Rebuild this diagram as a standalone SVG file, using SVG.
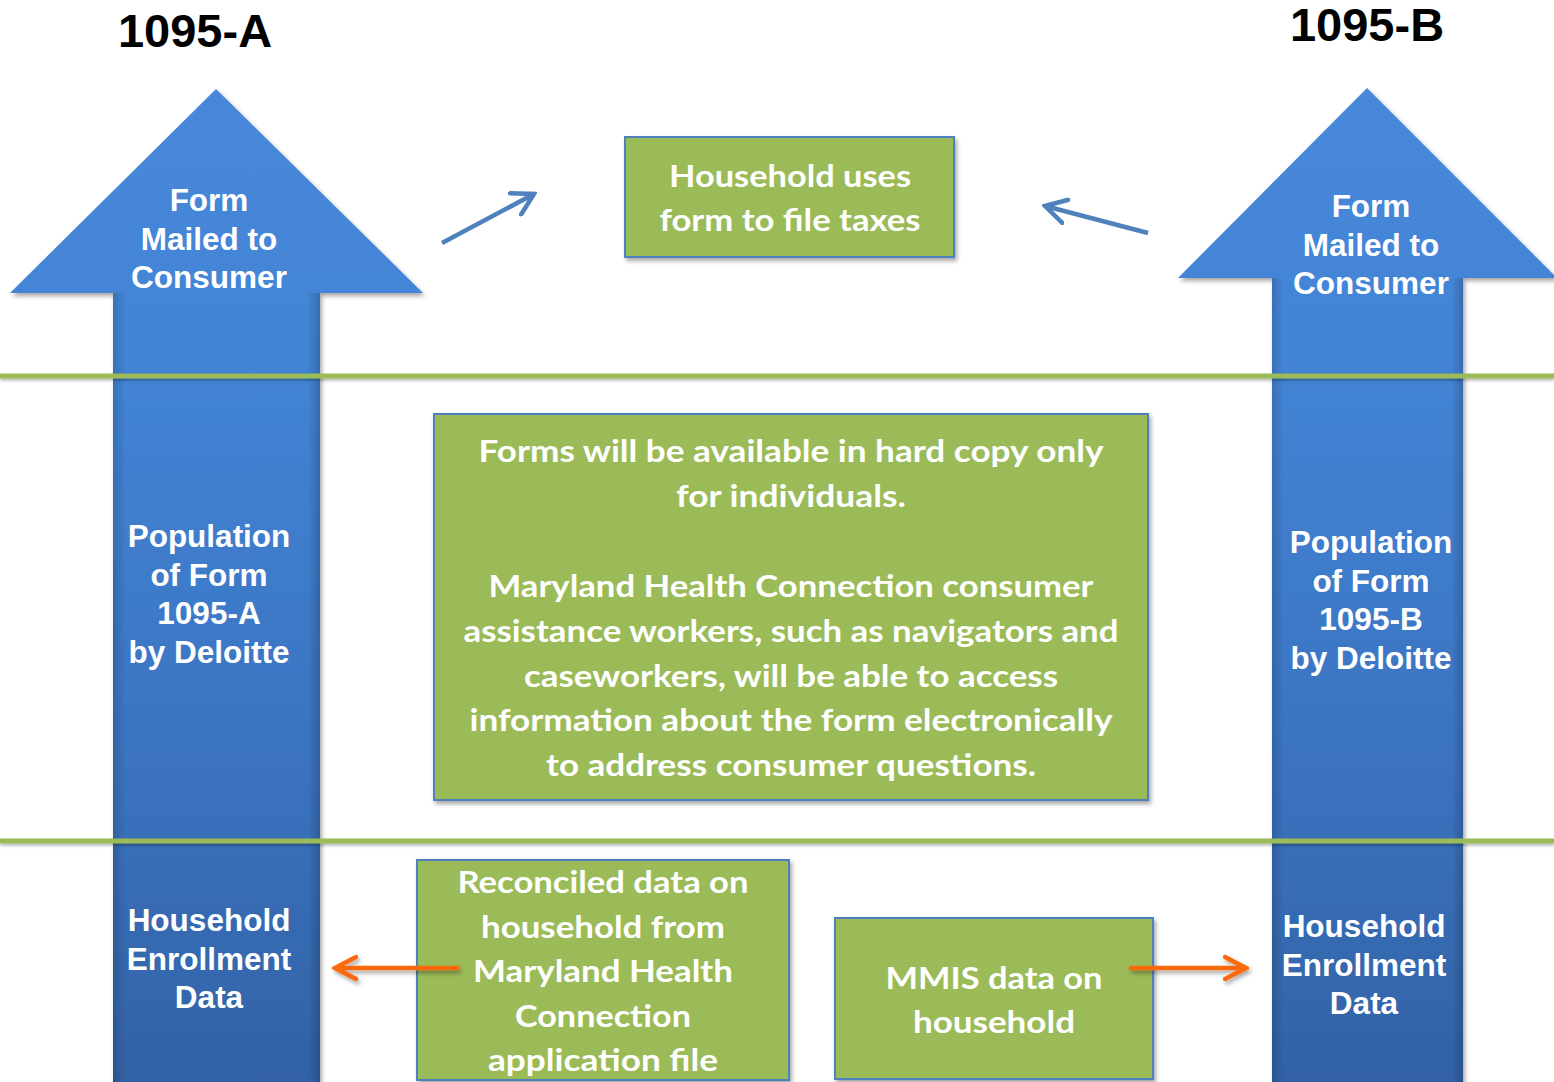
<svg xmlns="http://www.w3.org/2000/svg" width="1554" height="1082" viewBox="0 0 1554 1082">
<style>
  .title{font-family:"Liberation Sans",Arial,sans-serif;font-weight:bold;font-size:47px;fill:#000;text-anchor:middle}
  .alab{font-family:"Liberation Sans",Arial,sans-serif;font-weight:bold;font-size:31.5px;fill:#fff;text-anchor:middle}
  .box{fill:#9BBB59;stroke:#4F81BD;stroke-width:2}
  .btxt{font-family:Lato,"Open Sans",sans-serif;font-weight:bold;font-size:31px;fill:#fff;text-anchor:middle}
  .gline{stroke:#9BBB59;stroke-width:5}
  .blue{stroke:#4F81BD;stroke-width:4.5;fill:none}
  .orange{stroke:#FA6A0A;stroke-width:4.5;fill:none}
</style>
<defs>
  <linearGradient id="arrowGrad" gradientUnits="userSpaceOnUse" x1="0" y1="89" x2="0" y2="1082">
    <stop offset="0" stop-color="#4788DA"/>
    <stop offset="0.3" stop-color="#4283D4"/>
    <stop offset="0.7" stop-color="#3A72BE"/>
    <stop offset="1" stop-color="#3262A5"/>
  </linearGradient>
  <linearGradient id="edgeGrad" x1="0" y1="0" x2="1" y2="0">
    <stop offset="0" stop-color="#000" stop-opacity="0.15"/>
    <stop offset="0.06" stop-color="#000" stop-opacity="0"/>
    <stop offset="0.94" stop-color="#000" stop-opacity="0"/>
    <stop offset="1" stop-color="#000" stop-opacity="0.18"/>
  </linearGradient>
  <filter id="shadow" x="-10%" y="-10%" width="130%" height="130%">
    <feDropShadow dx="2" dy="3" stdDeviation="2" flood-color="#000" flood-opacity="0.35"/>
  </filter>
  <filter id="ushadow" filterUnits="userSpaceOnUse" x="0" y="0" width="1554" height="1082">
    <feDropShadow dx="2" dy="3" stdDeviation="2" flood-color="#000" flood-opacity="0.35"/>
  </filter>
  <filter id="lshadow" filterUnits="userSpaceOnUse" x="0" y="0" width="1554" height="1082">
    <feDropShadow dx="0" dy="2" stdDeviation="1.5" flood-color="#000" flood-opacity="0.3"/>
  </filter>
  <marker id="headBlue" viewBox="0 0 26 28" refX="23" refY="14" markerWidth="26" markerHeight="28" markerUnits="userSpaceOnUse" orient="auto">
    <path d="M2,2 L23,14 L2,26" fill="none" stroke="#4F81BD" stroke-width="4.5" stroke-linecap="round" stroke-linejoin="miter"/>
  </marker>
  <marker id="headOrange" viewBox="0 0 26 28" refX="23" refY="14" markerWidth="26" markerHeight="28" markerUnits="userSpaceOnUse" orient="auto">
    <path d="M2,3 L23,14 L2,25" fill="none" stroke="#FA6A0A" stroke-width="4.5" stroke-linecap="round" stroke-linejoin="miter"/>
  </marker>
</defs>

<rect x="0" y="0" width="1554" height="1082" fill="#fff"/>

<g id="title-a"><text class="title" x="195" y="47">1095-A</text></g>
<g id="title-b"><text class="title" x="1367" y="41">1095-B</text></g>

<g id="arrow-a">
  <path d="M216,89 L423,293 L320,293 L320,1082 L113,1082 L113,293 L10,293 Z" fill="url(#arrowGrad)" filter="url(#shadow)"/>
  <rect x="113" y="293" width="207" height="789" fill="url(#edgeGrad)"/>
  <text class="alab"><tspan x="209" y="211">Form</tspan><tspan x="209" y="249.5">Mailed to</tspan><tspan x="209" y="288">Consumer</tspan></text>
  <text class="alab"><tspan x="209" y="547">Population</tspan><tspan x="209" y="585.5">of Form</tspan><tspan x="209" y="624">1095-A</tspan><tspan x="209" y="662.5">by Deloitte</tspan></text>
  <text class="alab"><tspan x="209" y="931">Household</tspan><tspan x="209" y="969.5">Enrollment</tspan><tspan x="209" y="1008">Data</tspan></text>
</g>

<g id="arrow-b">
  <path d="M1367,88 L1557,278 L1463,278 L1463,1082 L1272,1082 L1272,278 L1178,278 Z" fill="url(#arrowGrad)" filter="url(#shadow)"/>
  <rect x="1272" y="278" width="191" height="804" fill="url(#edgeGrad)"/>
  <text class="alab"><tspan x="1371" y="217">Form</tspan><tspan x="1371" y="255.5">Mailed to</tspan><tspan x="1371" y="294">Consumer</tspan></text>
  <text class="alab"><tspan x="1371" y="553">Population</tspan><tspan x="1371" y="591.5">of Form</tspan><tspan x="1371" y="630">1095-B</tspan><tspan x="1371" y="668.5">by Deloitte</tspan></text>
  <text class="alab"><tspan x="1364" y="937">Household</tspan><tspan x="1364" y="975.5">Enrollment</tspan><tspan x="1364" y="1014">Data</tspan></text>
</g>

<g id="dividers" filter="url(#lshadow)">
  <line class="gline" x1="0" y1="376" x2="1554" y2="376"/>
  <line class="gline" x1="0" y1="841" x2="1554" y2="841"/>
</g>

<g id="box-taxes">
  <rect class="box" x="625" y="137" width="329" height="120" filter="url(#shadow)"/>
  <text class="btxt" x="790" y="187" textLength="242" lengthAdjust="spacingAndGlyphs">Household uses</text>
  <text class="btxt" x="790" y="231" textLength="261" lengthAdjust="spacingAndGlyphs">form to file taxes</text>
</g>

<g id="box-hardcopy">
  <rect class="box" x="434" y="414" width="714" height="386" filter="url(#shadow)"/>
  <text class="btxt" x="791" y="462" textLength="625" lengthAdjust="spacingAndGlyphs">Forms will be available in hard copy only</text>
  <text class="btxt" x="791" y="507" textLength="230" lengthAdjust="spacingAndGlyphs">for individuals.</text>
  <text class="btxt" x="791" y="597" textLength="605" lengthAdjust="spacingAndGlyphs">Maryland Health Connection consumer</text>
  <text class="btxt" x="791" y="642" textLength="655" lengthAdjust="spacingAndGlyphs">assistance workers, such as navigators and</text>
  <text class="btxt" x="791" y="687" textLength="534" lengthAdjust="spacingAndGlyphs">caseworkers, will be able to access</text>
  <text class="btxt" x="791" y="731" textLength="643" lengthAdjust="spacingAndGlyphs">information about the form electronically</text>
  <text class="btxt" x="791" y="776" textLength="490" lengthAdjust="spacingAndGlyphs">to address consumer questions.</text>
</g>

<g id="box-reconciled">
  <rect class="box" x="417" y="860" width="372" height="220" filter="url(#shadow)"/>
  <text class="btxt" x="603" y="893" textLength="291" lengthAdjust="spacingAndGlyphs">Reconciled data on</text>
  <text class="btxt" x="603" y="938" textLength="244" lengthAdjust="spacingAndGlyphs">household from</text>
  <text class="btxt" x="603" y="982" textLength="260" lengthAdjust="spacingAndGlyphs">Maryland Health</text>
  <text class="btxt" x="603" y="1027" textLength="176" lengthAdjust="spacingAndGlyphs">Connection</text>
  <text class="btxt" x="603" y="1071" textLength="230" lengthAdjust="spacingAndGlyphs">application file</text>
</g>

<g id="box-mmis">
  <rect class="box" x="835" y="918" width="318" height="161" filter="url(#shadow)"/>
  <text class="btxt" x="994" y="989" textLength="217" lengthAdjust="spacingAndGlyphs">MMIS data on</text>
  <text class="btxt" x="994" y="1033" textLength="162" lengthAdjust="spacingAndGlyphs">household</text>
</g>

<g id="connectors">
  <line class="blue" x1="442" y1="243" x2="534" y2="194" marker-end="url(#headBlue)"/>
  <line class="blue" x1="1148" y1="233" x2="1045" y2="206" marker-end="url(#headBlue)"/>
  <g filter="url(#ushadow)">
    <line class="orange" x1="459" y1="968" x2="335" y2="968" marker-end="url(#headOrange)"/>
    <line class="orange" x1="1129" y1="968" x2="1246" y2="968" marker-end="url(#headOrange)"/>
  </g>
</g>
</svg>
